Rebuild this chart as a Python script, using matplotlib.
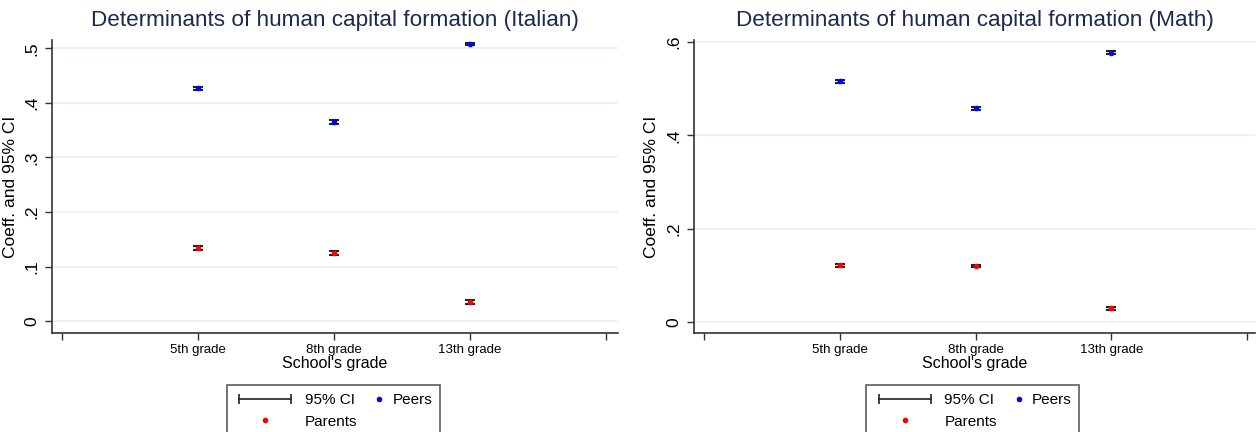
import numpy as np
import matplotlib
matplotlib.use('Agg')
import matplotlib.pyplot as plt
from matplotlib.lines import Line2D
from matplotlib.legend_handler import HandlerLine2D

plt.rcParams['font.family'] = ['Liberation Sans', 'DejaVu Sans']

grades = ['5th grade', '8th grade', '13th grade']

ita_peers = [0.427, 0.365, 0.508]
ita_peers_ci = [0.003, 0.003, 0.002]
ita_parents = [0.134, 0.125, 0.035]
ita_parents_ci = [0.003, 0.003, 0.003]

math_peers = [0.516, 0.458, 0.577]
math_peers_ci = [0.003, 0.003, 0.003]
math_parents = [0.121, 0.120, 0.029]
math_parents_ci = [0.003, 0.003, 0.003]

ita_yticks = [0, 0.1, 0.2, 0.3, 0.4, 0.5]
ita_ylabels = ['0', '.1', '.2', '.3', '.4', '.5']
math_yticks = [0, 0.2, 0.4, 0.6]
math_ylabels = ['0', '.2', '.4', '.6']

title_col = '#1a2a50'
grid_col = '#eaf2f3'


class HandlerRightDot(HandlerLine2D):
    # Stata puts this dot key next to its text, not in the middle of the key area
    def get_xdata(self, legend, xdescent, ydescent, width, height, fontsize):
        xd = np.array([width - xdescent - 6.0, width - xdescent])
        return xd, xd


def draw_panel(ax, title, peers, peers_ci, parents, parents_ci, yticks, ylabels, ylim, xlim):
    x = np.arange(1, len(grades) + 1)
    for y in yticks:
        ax.axhline(y, color=grid_col, lw=1.5, zorder=0)
    ax.errorbar(x, peers, yerr=peers_ci, fmt='none', ecolor='#222222',
                elinewidth=1.5, capsize=3.5, capthick=1.5, zorder=2)
    ax.errorbar(x, parents, yerr=parents_ci, fmt='none', ecolor='#222222',
                elinewidth=1.5, capsize=3.5, capthick=1.5, zorder=2)
    ax.plot(x, peers, 'o', color='#0000ff', ms=3, zorder=3)
    ax.plot(x, parents, 'o', color='#ff0000', ms=3, zorder=3)

    ax.set_xlim(*xlim)
    ax.set_ylim(*ylim)
    ax.set_xticks([0, 1, 2, 3, 4])
    ax.set_xticklabels([''] + grades + [''], fontsize=9.5)
    ax.set_yticks(yticks)
    ax.set_yticklabels(ylabels, rotation=90, va='center', fontsize=12.5)
    ax.tick_params(axis='both', direction='out', length=5, width=1, color='#333333')
    ax.tick_params(axis='x', pad=3)
    ax.tick_params(axis='y', pad=4)
    for s in ['top', 'right']:
        ax.spines[s].set_visible(False)
    for s in ['left', 'bottom']:
        ax.spines[s].set_linewidth(1.2)
        ax.spines[s].set_color('#333333')

    ax.set_title(title, color=title_col, fontsize=16.2, pad=10)
    ax.set_xlabel("School's grade", fontsize=11.5, labelpad=0)
    ax.set_ylabel('Coeff. and 95% CI', fontsize=12.5, labelpad=5)

    ci_h = Line2D([], [], color='#222222', lw=1.2, marker='|', ms=7, mew=1.2)
    par_h = Line2D([], [], ls='none', marker='o', color='#ff0000', ms=3)
    peer_h = Line2D([], [], ls='none', marker='o', color='#0000ff', ms=3)
    leg = ax.legend([ci_h, par_h, peer_h], ['95% CI', 'Parents', 'Peers'],
                    ncol=2, loc='upper center', bbox_to_anchor=(0.497, -0.152),
                    frameon=True, fancybox=False, edgecolor='#333333',
                    fontsize=11, handlelength=4, handletextpad=0.6,
                    columnspacing=-2.3, borderpad=0.5, labelspacing=0.5,
                    handler_map={ci_h: HandlerLine2D(numpoints=2),
                                 peer_h: HandlerRightDot()})
    leg.get_frame().set_linewidth(1.2)


fig = plt.figure(figsize=(12.56, 4.32), dpi=100)
ax1 = fig.add_axes([0.0414, 0.229, 0.4506, 0.678])
ax2 = fig.add_axes([0.5525, 0.229, 0.447, 0.678])

draw_panel(ax1, 'Determinants of human capital formation (Italian)',
           ita_peers, ita_peers_ci, ita_parents, ita_parents_ci,
           ita_yticks, ita_ylabels, (-0.022, 0.515), (-0.074, 4.09))
draw_panel(ax2, 'Determinants of human capital formation (Math)',
           math_peers, math_peers_ci, math_parents, math_parents_ci,
           math_yticks, math_ylabels, (-0.024, 0.604), (-0.074, 4.06))

fig.savefig('out.png', dpi=100)
